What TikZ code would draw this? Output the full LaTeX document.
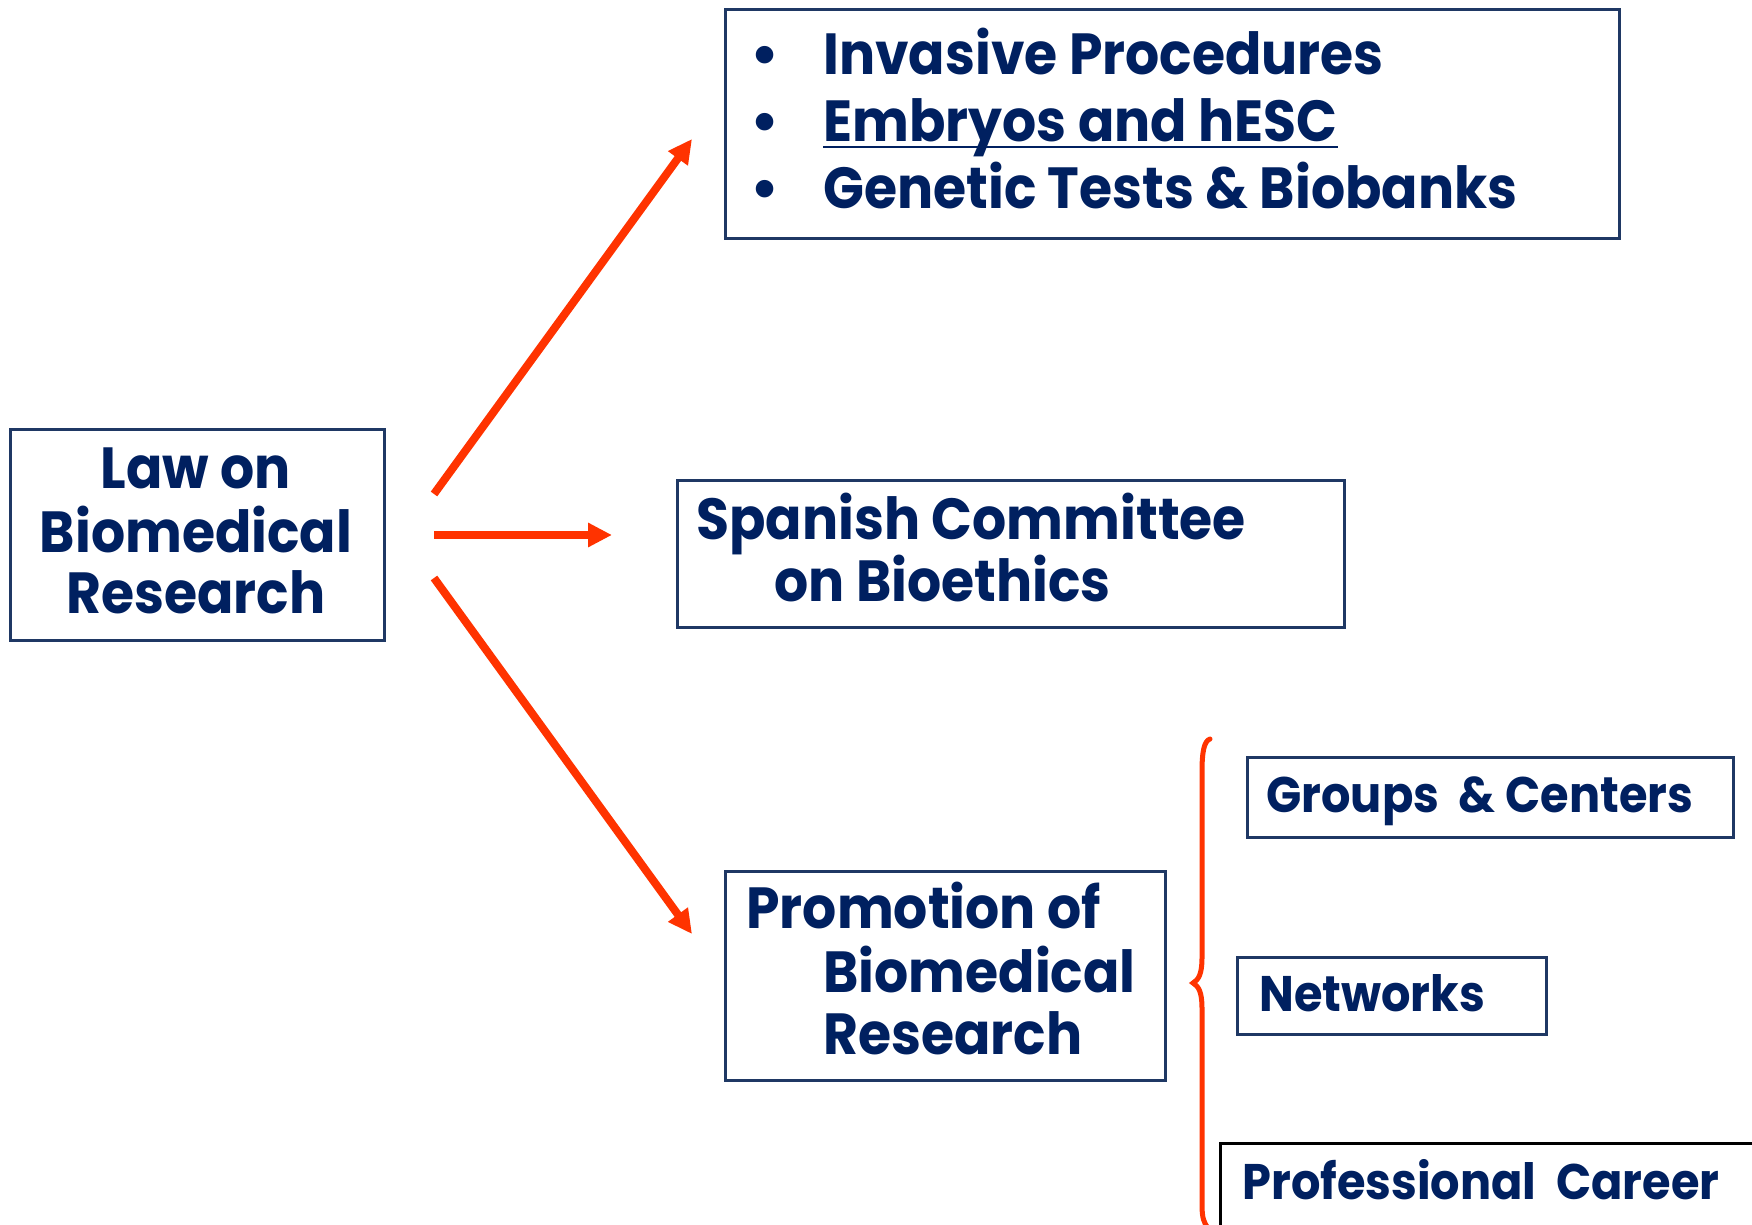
\documentclass[tikz,border=0pt]{standalone}
\usepackage{fontspec}
\usepackage{graphicx}
\setmainfont{Poppins}
\usetikzlibrary{arrows.meta}
\definecolor{navytext}{RGB}{0,32,96}
\definecolor{navyline}{RGB}{31,56,100}
\definecolor{arrowred}{RGB}{255,51,0}
\newcommand\sqz[1]{\scalebox{0.925}[1]{#1}}
\tikzset{
  box/.style={draw=navyline, line width=1.5pt, inner sep=0pt, anchor=north west},
  txt/.style={anchor=base west, inner sep=0pt, text=navytext, font=\fontsize{29}{31}\selectfont\bfseries},
  ctxt/.style={anchor=base, inner sep=0pt, text=navytext, font=\fontsize{29}{31}\selectfont\bfseries},
  stxt/.style={anchor=base west, inner sep=0pt, text=navytext, font=\fontsize{25}{27}\selectfont\bfseries},
  conn/.style={draw=arrowred, line width=4pt, -{Triangle[length=12pt,width=11.5pt]}},
}
\begin{document}
\begin{tikzpicture}[x=0.5pt,y=-0.5pt]
\useasboundingbox (0,0) rectangle (1752,1225);
\clip (0,0) rectangle (1752,1225);
% boxes
\node[box, minimum width=374pt/2, minimum height=211pt/2] (law) at (9,428) {};
\node[box, minimum width=894pt/2, minimum height=229pt/2] (top) at (724,8) {};
\node[box, minimum width=667pt/2, minimum height=147pt/2] (span) at (676,479) {};
\node[box, minimum width=440pt/2, minimum height=209pt/2] (prom) at (724,870) {};
\node[box, minimum width=486pt/2, minimum height=80pt/2] (grp) at (1246,756) {};
\node[box, minimum width=309pt/2, minimum height=77pt/2] (net) at (1236,956) {};
\node[box, draw=black, minimum width=560pt/2, minimum height=100pt/2] (prof) at (1219,1142) {};
% law text
\node[ctxt] (l1) at (196,488) {\sqz{Law on}};
\node[ctxt] (l2) at (196,552) {\sqz{Biomedical}};
\node[ctxt] (l3) at (196,613) {\sqz{Research}};
% top list
\node[txt] (b1) at (750,75) {•};
\node[txt] (b2) at (750,142) {•};
\node[txt] (b3) at (750,209) {•};
\node[txt] (t1) at (823,75) {\sqz{Invasive Procedures}};
\node[txt] (t2) at (823,142) {\sqz{Embryos and hESC}};
\node[txt] (t3) at (823,209) {\sqz{Genetic Tests \& Biobanks}};
\draw[navytext, line width=1.2pt] ([yshift=-2.5pt]t2.base west) -- ([yshift=-2.5pt]t2.base east);
% spanish
\node[txt] (s1) at (696,539) {\sqz{Spanish Committee}};
\node[txt] (s2) at (774,601) {\sqz{on Bioethics}};
% promotion
\node[txt] (p1) at (746,928) {\sqz{Promotion of}};
\node[txt] (p2) at (823,992) {\sqz{Biomedical}};
\node[txt] (p3) at (823,1054) {\sqz{Research}};
% small boxes
\node[stxt] (g1) at (1266,812) {\sqz{Groups \ \& Centers}};
\node[stxt] (n1) at (1259,1011) {\sqz{Networks}};
\node[stxt] (c1) at (1242,1199) {\sqz{Professional \ Career}};
% arrows
\coordinate (a1s) at (434,494);
\coordinate (a1e) at (692,139);
\coordinate (a2s) at (434,535);
\coordinate (a2e) at (612,535);
\coordinate (a3s) at (434,578);
\coordinate (a3e) at (692,934);
\draw[conn] (a1s) -- (a1e);
\draw[conn] (a2s) -- (a2e);
\draw[conn] (a3s) -- (a3e);
% brace
\draw[arrowred, line width=2.5pt, line cap=round] (1210,739) .. controls (1204,741) and (1202,752) .. (1202,772) -- (1202,958) .. controls (1202,975) and (1198,980) .. (1193,983) .. controls (1198,986) and (1202,991) .. (1202,1008) -- (1202,1205) .. controls (1202,1218) and (1204,1223) .. (1208,1228);
\end{tikzpicture}
\end{document}
